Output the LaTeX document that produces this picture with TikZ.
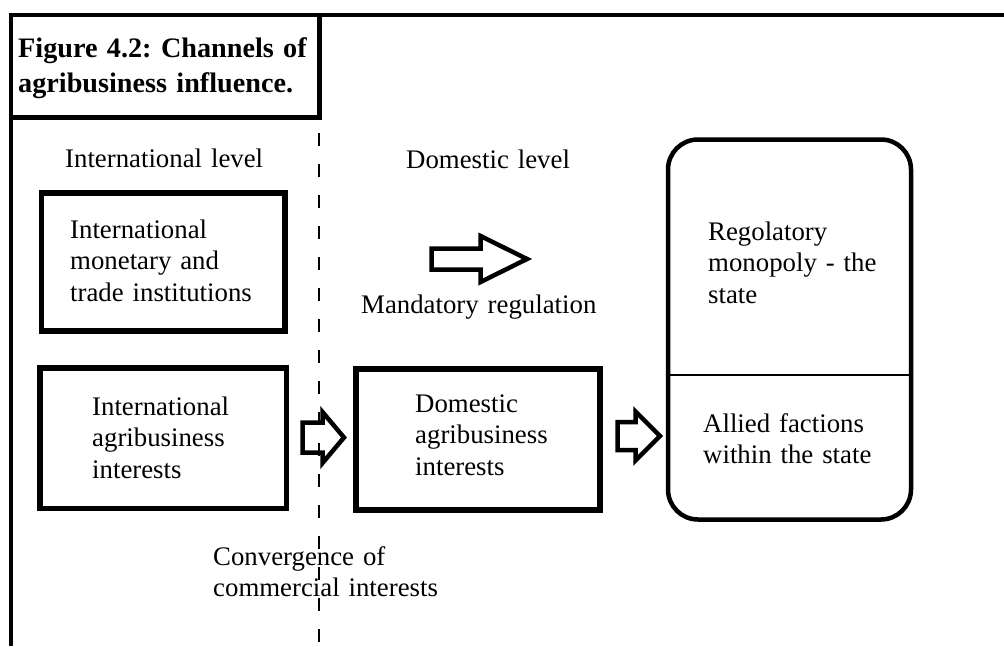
\documentclass[tikz,border=0pt]{standalone}
\usepackage{fontspec}
\setmainfont{Liberation Serif}
\frenchspacing
\tikzset{
  frameline/.style={line width=4.5pt},
  boxshape/.style={draw, line width=5.5pt, rectangle, inner sep=0pt},
  statebox/.style={draw, line width=4.5pt, rectangle, rounded corners=30pt, inner sep=0pt},
  label/.style={inner sep=0pt, anchor=base west, align=left, text width=400pt,
    font=\frenchspacing\fontsize{26.8}{31.5}\selectfont},
  titletext/.style={inner sep=0pt, anchor=base west, align=left, text width=400pt,
    font=\frenchspacing\bfseries\fontsize{28.2}{35}\selectfont},
  barrow/.style={draw, line width=4.5pt, miter limit=10},
  divider/.style={dashed, line width=1.8pt, dash pattern=on 13pt off 18pt}
}
\newcommand\blockarrow[6]{%
  \draw[barrow] (#1,#4-#5) -- (#3,#4-#5) -- (#3,#4-#6) -- (#2,#4) -- (#3,#4+#6) -- (#3,#4+#5) -- (#1,#4+#5) -- cycle;}
\begin{document}
\begin{tikzpicture}[x=1pt,y=-1pt]
\useasboundingbox (0,0) rectangle (1004,646);
% outer frame
\draw[frameline] (1004,15) -- (11,15) -- (11,646);
% title box
\draw[frameline] (319.5,15) -- (319.5,117.5) -- (11,117.5);
\node[titletext] (title) at (18,57) {Figure 4.2: Channels of\\agribusiness influence.};
% dashed level divider
\coordinate (dtop) at (319,133);
\coordinate (dbot) at (319,646);
\draw[divider] (dtop) -- (dbot);
% level labels
\node[label] (intl) at (65,167) {International level};
\node[label] (dom) at (406,168) {Domestic level};
% boxes
\node[boxshape, minimum width=243.5pt, minimum height=138pt] (box1) at (163.25,262) {};
\node[boxshape, minimum width=246.5pt, minimum height=140.5pt] (box2) at (163.25,438.25) {};
\node[boxshape, minimum width=244pt, minimum height=141pt] (box3) at (478,439.5) {};
\node[statebox, minimum width=243pt, minimum height=380pt] (state) at (789.5,329.5) {};
\draw[line width=1.6pt] (state.west |- 0,375) -- (state.east |- 0,375);
% texts
\node[label] (t1) at (70,238) {International\\monetary and\\trade institutions};
\node[label] (t2) at (92,415) {International\\agribusiness\\interests};
\node[label] (t3) at (415,412) {Domestic\\agribusiness\\interests};
\node[label] (t4) at (708,240) {Regolatory\\monopoly - the\\state};
\node[label] (t5) at (703,432) {Allied factions\\within the state};
\node[label] (mand) at (361,313) {Mandatory regulation};
\node[label] (conv) at (213,565) {Convergence of\\commercial interests};
% block arrows
\blockarrow{431.5}{527}{480.5}{259}{10.5}{23}
\blockarrow{302.5}{344}{322.5}{437.5}{15}{25.5}
\blockarrow{617.5}{660}{635.5}{436}{14}{24.5}
\end{tikzpicture}
\end{document}
